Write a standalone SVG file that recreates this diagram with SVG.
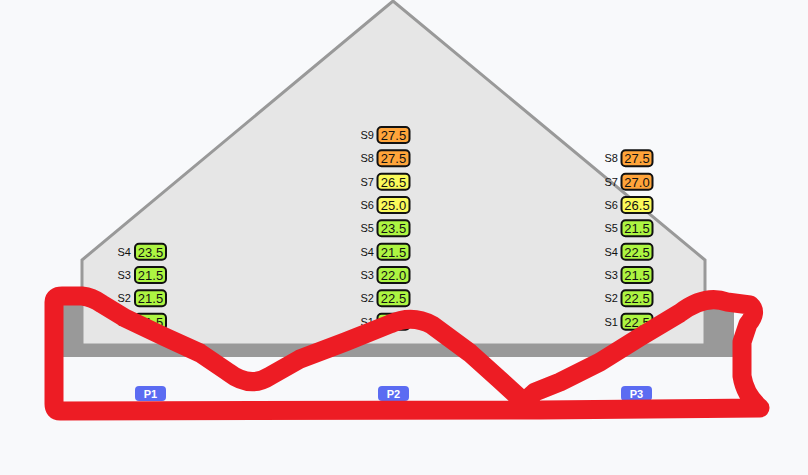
<svg xmlns="http://www.w3.org/2000/svg" width="808" height="475" viewBox="0 0 808 475">
<style>
.lbl{font-family:"Liberation Sans",Arial,sans-serif;font-size:11px;fill:#111;text-anchor:end}
.val{font-family:"Liberation Sans",Arial,sans-serif;font-size:13px;fill:#111;text-anchor:middle}
.box{stroke:#111;stroke-width:2}
.g{fill:#adf542}.y{fill:#fafa5a}.o{fill:#ffa43a}
.pill{fill:#5b6cf2}
.pt{font-family:"Liberation Sans",Arial,sans-serif;font-size:11px;font-weight:bold;fill:#fff;text-anchor:middle}
</style>
<rect width="808" height="475" fill="#f8f9fb"/>
<g id="structure">
<rect x="63" y="300" width="671" height="57" fill="#999"/>
<polygon points="82,345 82,260 393,1 705,260 705,345" fill="#e6e6e6" stroke="#999" stroke-width="3"/>
</g>
<g id="P1">
<g id="P1-S4"><text class="lbl" x="131" y="255.5">S4</text><rect class="box g" x="135" y="243.7" width="31" height="16" rx="4"/><text class="val" x="150.5" y="256.5">23.5</text></g>
<g id="P1-S3"><text class="lbl" x="131" y="279">S3</text><rect class="box g" x="135" y="267" width="31" height="16" rx="4"/><text class="val" x="150.5" y="280">21.5</text></g>
<g id="P1-S2"><text class="lbl" x="131" y="302">S2</text><rect class="box g" x="135" y="290.3" width="31" height="16" rx="4"/><text class="val" x="150.5" y="303">21.5</text></g>
<g id="P1-S1"><text class="lbl" x="131" y="325.5">S1</text><rect class="box g" x="135" y="313.7" width="31" height="16" rx="4"/><text class="val" x="150.5" y="326.5">21.5</text></g>
<rect class="pill" x="135" y="386" width="31" height="15" rx="4"/><text class="pt" x="150.5" y="397.5">P1</text>
</g>
<g id="P2">
<g id="P2-S9"><text class="lbl" x="374" y="139">S9</text><rect class="box o" x="377.5" y="127" width="32" height="16" rx="4"/><text class="val" x="393.5" y="140">27.5</text></g>
<g id="P2-S8"><text class="lbl" x="374" y="162">S8</text><rect class="box o" x="377.5" y="150.3" width="32" height="16" rx="4"/><text class="val" x="393.5" y="163">27.5</text></g>
<g id="P2-S7"><text class="lbl" x="374" y="185.5">S7</text><rect class="box y" x="377.5" y="173.7" width="32" height="16" rx="4"/><text class="val" x="393.5" y="186.5">26.5</text></g>
<g id="P2-S6"><text class="lbl" x="374" y="209">S6</text><rect class="box y" x="377.5" y="197" width="32" height="16" rx="4"/><text class="val" x="393.5" y="210">25.0</text></g>
<g id="P2-S5"><text class="lbl" x="374" y="232">S5</text><rect class="box g" x="377.5" y="220.3" width="32" height="16" rx="4"/><text class="val" x="393.5" y="233">23.5</text></g>
<g id="P2-S4"><text class="lbl" x="374" y="255.5">S4</text><rect class="box g" x="377.5" y="243.7" width="32" height="16" rx="4"/><text class="val" x="393.5" y="256.5">21.5</text></g>
<g id="P2-S3"><text class="lbl" x="374" y="279">S3</text><rect class="box g" x="377.5" y="267" width="32" height="16" rx="4"/><text class="val" x="393.5" y="280">22.0</text></g>
<g id="P2-S2"><text class="lbl" x="374" y="302">S2</text><rect class="box g" x="377.5" y="290.3" width="32" height="16" rx="4"/><text class="val" x="393.5" y="303">22.5</text></g>
<g id="P2-S1"><text class="lbl" x="374" y="325.5">S1</text><rect class="box g" x="377.5" y="313.7" width="32" height="16" rx="4"/><text class="val" x="393.5" y="326.5">22.5</text></g>
<rect class="pill" x="378" y="386" width="31" height="15" rx="4"/><text class="pt" x="393.5" y="397.5">P2</text>
</g>
<g id="P3">
<g id="P3-S8"><text class="lbl" x="618" y="162">S8</text><rect class="box o" x="621.5" y="150.3" width="31" height="16" rx="4"/><text class="val" x="637" y="163">27.5</text></g>
<g id="P3-S7"><text class="lbl" x="618" y="185.5">S7</text><rect class="box o" x="621.5" y="173.7" width="31" height="16" rx="4"/><text class="val" x="637" y="186.5">27.0</text></g>
<g id="P3-S6"><text class="lbl" x="618" y="209">S6</text><rect class="box y" x="621.5" y="197" width="31" height="16" rx="4"/><text class="val" x="637" y="210">26.5</text></g>
<g id="P3-S5"><text class="lbl" x="618" y="232">S5</text><rect class="box g" x="621.5" y="220.3" width="31" height="16" rx="4"/><text class="val" x="637" y="233">21.5</text></g>
<g id="P3-S4"><text class="lbl" x="618" y="255.5">S4</text><rect class="box g" x="621.5" y="243.7" width="31" height="16" rx="4"/><text class="val" x="637" y="256.5">22.5</text></g>
<g id="P3-S3"><text class="lbl" x="618" y="279">S3</text><rect class="box g" x="621.5" y="267" width="31" height="16" rx="4"/><text class="val" x="637" y="280">21.5</text></g>
<g id="P3-S2"><text class="lbl" x="618" y="302">S2</text><rect class="box g" x="621.5" y="290.3" width="31" height="16" rx="4"/><text class="val" x="637" y="303">22.5</text></g>
<g id="P3-S1"><text class="lbl" x="618" y="325.5">S1</text><rect class="box g" x="621.5" y="313.7" width="31" height="16" rx="4"/><text class="val" x="637" y="326.5">22.5</text></g>
<rect class="pill" x="621" y="386" width="31" height="15" rx="4"/><text class="pt" x="636.5" y="397.5">P3</text>
</g>
<g id="connectors"></g>
<g id="scribble">
<path d="M 54 302 Q 54 296 62 296 L 82 296 Q 92 297 102 304 L 125 318 L 165 337 L 200 353 L 228 372 Q 250 389 270 376 L 300 359 L 345 342 L 390 324 Q 412 314 432 325 L 470 353 L 500 380 L 524 402 L 535 392 L 560 382 L 600 362 L 640 337 L 680 313 Q 705 294 727 302 L 750 305 Q 758 312 748 324 L 742 342 L 742 376 Q 745 395 760 408 L 540 410 L 60 411 Q 54 411 54 404 Z" fill="none" stroke="#ed1c24" stroke-width="19" stroke-linejoin="round" stroke-linecap="round"/>
</g>
</svg>
